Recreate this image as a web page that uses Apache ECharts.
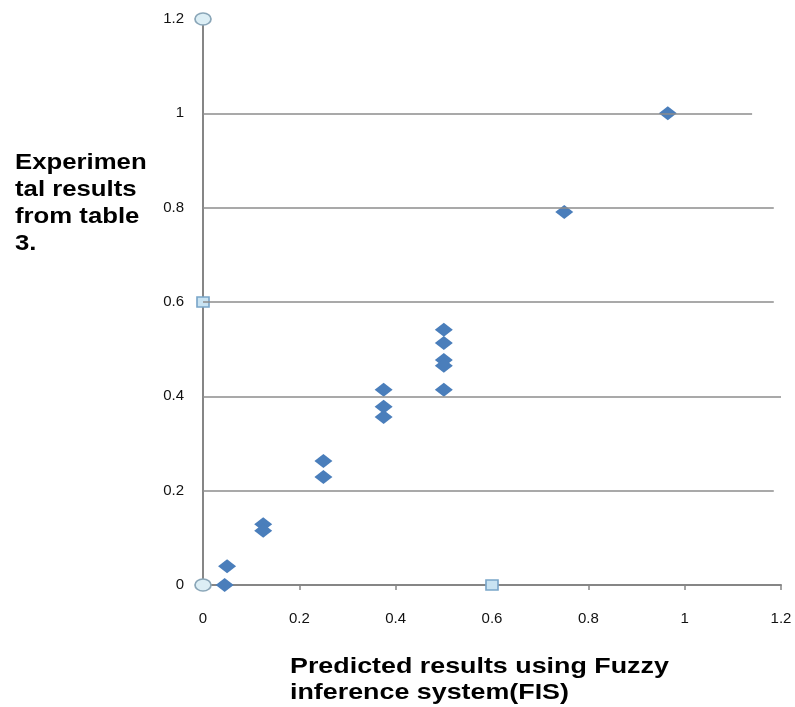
<!DOCTYPE html>
<html><head><meta charset="utf-8">
<script src="https://cdn.jsdelivr.net/npm/echarts@6/dist/echarts.min.js"></script>
<style>html,body{margin:0;padding:0;background:#fff}#c{width:795px;height:707px}</style>
</head><body><div id="c"></div>
<script>
const xTicks = [0, 0.2, 0.4, 0.6, 0.8, 1, 1.2];
const yTicks = [0, 0.2, 0.4, 0.6, 0.8, 1, 1.2];
const gridValues = [0.2, 0.4, 0.6, 0.8, 1.0];
const gridEnds = [1.185, 1.2, 1.185, 1.185, 1.14];
const predicted = [0.045, 0.05, 0.125, 0.125, 0.25, 0.25, 0.375, 0.375, 0.375, 0.5, 0.5, 0.5, 0.5, 0.5, 0.75, 0.965];
const experimental = [0.0, 0.04, 0.129, 0.115, 0.263, 0.229, 0.414, 0.378, 0.356, 0.541, 0.513, 0.477, 0.465, 0.414, 0.791, 1.0];
const circleX = [0, 0];
const circleY = [0, 1.2];
const squareX = [0, 0.6];
const squareY = [0.6, 0];
const yTitle = ['Experimen', 'tal results', 'from table', '3.'];
const xTitle = ['Predicted results using Fuzzy', 'inference system(FIS)'];

const zip = (a, b) => a.map((v, i) => [v, b[i]]);
const chart = echarts.init(document.getElementById('c'));
const fmt = v => String(v);
chart.setOption({
  animation: false,
  backgroundColor: '#ffffff',
  grid: { left: 203, top: 19, right: 14, bottom: 122, containLabel: false },
  xAxis: {
    type: 'value', min: 0, max: 1.2, interval: 0.2,
    axisLine: { show: true, onZero: false, lineStyle: { color: '#868686', width: 2 } },
    axisTick: { show: true, inside: false, length: 5, lineStyle: { color: '#868686', width: 1.5 } },
    axisLabel: { color: '#111', fontFamily: '"Liberation Sans", Arial', fontSize: 15, margin: 26, formatter: fmt, showMaxLabel: true, showMinLabel: true },
    splitLine: { show: false }
  },
  yAxis: {
    type: 'value', min: 0, max: 1.2, interval: 0.2,
    axisLine: { show: true, onZero: false, lineStyle: { color: '#868686', width: 2 } },
    axisTick: { show: false },
    axisLabel: { color: '#111', fontFamily: '"Liberation Sans", Arial', fontSize: 15, margin: 19, formatter: fmt },
    splitLine: { show: false }
  },
  graphic: [
    { type: 'text', x: 15, y: 149, scaleX: 1.17, style: { x: 0, y: 0, text: yTitle.join('\n'), font: 'bold 22px "Liberation Sans", Arial', fill: '#000', lineHeight: 27, verticalAlign: 'top' } },
    { type: 'text', x: 290, y: 654, scaleX: 1.22, style: { x: 0, y: 0, text: xTitle.join('\n'), font: 'bold 22px "Liberation Sans", Arial', fill: '#000', lineHeight: 26, verticalAlign: 'top' } }
  ],
  series: [
    {
      type: 'line', data: [], silent: true, z: 1,
      markLine: {
        silent: true, symbol: 'none', label: { show: false },
        lineStyle: { color: '#8c8c8c', width: 1.5, type: 'solid' },
        data: gridValues.map((v, i) => [{ coord: [0, v] }, { coord: [gridEnds[i], v] }])
      }
    },
    {
      type: 'scatter', data: zip(predicted, experimental), symbol: 'diamond', symbolSize: [18, 14],
      itemStyle: { color: '#4a7ebb', opacity: 1 }, z: 3
    },
    {
      type: 'scatter', data: zip(circleX, circleY), symbol: 'circle', symbolSize: [16, 12],
      itemStyle: { color: '#dceef5', borderColor: '#8aa6b8', borderWidth: 1.5, opacity: 1 }, z: 4
    },
    {
      type: 'scatter', data: zip(squareX, squareY), symbol: 'rect', symbolSize: [12, 10],
      itemStyle: { color: '#c9e3f2', borderColor: '#7aa6c9', borderWidth: 1.5, opacity: 1 }, z: 4
    }
  ]
});
</script></body></html>
